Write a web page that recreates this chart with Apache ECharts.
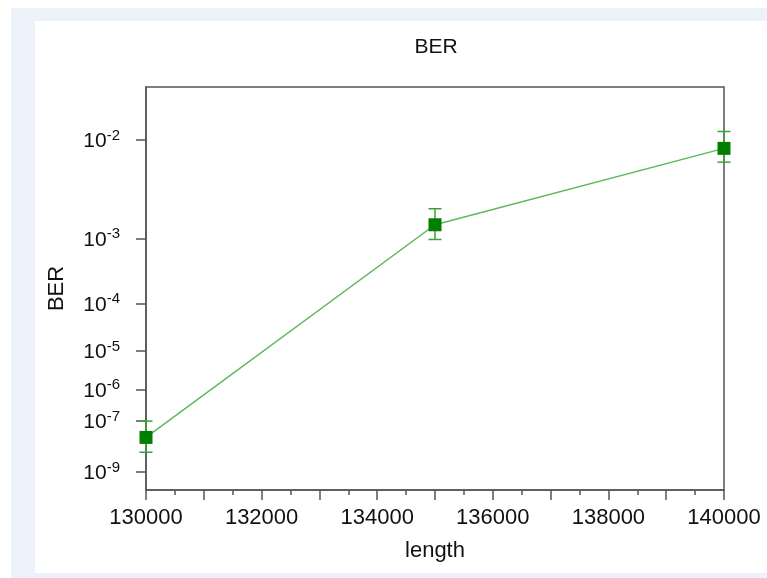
<!DOCTYPE html>
<html>
<head>
<meta charset="utf-8">
<script src="https://cdn.jsdelivr.net/npm/echarts@6/dist/echarts.min.js"></script>
<style>
  html, body { margin: 0; padding: 0; background: #fff; }
  #wrap { position: relative; width: 767px; height: 578px; overflow: hidden; }
  /* light frame around the white panel */
  #band { position: absolute; left: 11px; top: 8px; right: 0; bottom: 0; background: #edf2fa; }
  #panel { position: absolute; left: 35px; top: 21px; right: 0; bottom: 5px; background: #fff; }
  #chart { position: absolute; left: 0; top: 0; width: 767px; height: 578px; }
</style>
</head>
<body>
<div id="wrap">
  <div id="band"></div>
  <div id="panel"></div>
  <div id="chart"></div>
</div>
<script>
// data
const lengths = [130000, 135000, 140000];
const ber = [2.6e-8, 1.5e-3, 8.6e-3];
const berLow = [6.9e-9, 9.8e-4, 6.6e-3];
const berHigh = [1.0e-7, 2.3e-3, 1.16e-2];

// y tick labels (exponents of ten)
const yTickExp = [-2, -3, -4, -5, -6, -7, -9];
// x labels
const xLabels = [130000, 132000, 134000, 136000, 138000, 140000];

// visible BER range of the plot
const berTop = 2.27e-2;
const berBottom = 1.41e-10;

// the y axis is not a plain log axis: position goes with ln(-log10(BER) - 0.55)
const OFF = 0.55;
function T(v) {
  return Math.log(-Math.log10(v) - OFF);
}
function expOf(t) {
  return -Math.round(Math.exp(t) + OFF);
}

const FONT = "'Liberation Sans', Arial, sans-serif";
const AXIS_COLOR = "#555";
const TEXT_COLOR = "#111";

const chart = echarts.init(document.getElementById("chart"), null, { renderer: "canvas" });

const yTicks = yTickExp.map(e => T(Math.pow(10, e)));

const option = {
  backgroundColor: "transparent",
  animation: false,
  title: {
    text: "BER",
    left: 436,
    textAlign: "center",
    top: 37,
    padding: 0,
    textStyle: { fontFamily: FONT, fontSize: 21, fontWeight: "normal", color: TEXT_COLOR },
  },
  grid: {
    left: 146,
    right: 43,
    top: 87,
    bottom: 88,
    show: true,
    borderColor: AXIS_COLOR,
    borderWidth: 1.5,
    backgroundColor: "transparent",
  },
  xAxis: {
    type: "value",
    min: 130000,
    max: 140000,
    interval: 1000,
    name: "length",
    nameLocation: "middle",
    nameGap: 50,
    nameTextStyle: { fontFamily: FONT, fontSize: 22, color: TEXT_COLOR },
    axisLine: { onZero: false, lineStyle: { color: AXIS_COLOR, width: 1.5 } },
    axisTick: { show: true, length: 10, lineStyle: { color: AXIS_COLOR, width: 1.5 } },
    minorTick: { show: true, splitNumber: 2, length: 5, lineStyle: { color: AXIS_COLOR, width: 1.5 } },
    axisLabel: {
      margin: 17,
      fontFamily: FONT,
      fontSize: 22,
      color: TEXT_COLOR,
      formatter: v => (xLabels.indexOf(v) >= 0 ? String(v) : ""),
    },
    splitLine: { show: false },
  },
  yAxis: {
    type: "value",
    inverse: true,
    min: T(berTop),
    max: T(berBottom),
    name: "BER",
    nameLocation: "middle",
    nameGap: 78,
    nameTextStyle: { fontFamily: FONT, fontSize: 22, color: TEXT_COLOR },
    axisLine: { show: true, lineStyle: { color: AXIS_COLOR, width: 1.5 } },
    axisTick: { show: true, length: 10, customValues: yTicks, lineStyle: { color: AXIS_COLOR, width: 1.5 } },
    axisLabel: {
      customValues: yTicks,
      margin: 26,
      formatter: v => "{b|10}{s|" + expOf(v) + "}",
      rich: {
        b: { fontFamily: FONT, fontSize: 21, color: TEXT_COLOR, lineHeight: 24, verticalAlign: "bottom" },
        s: { fontFamily: FONT, fontSize: 15, color: TEXT_COLOR, lineHeight: 14, verticalAlign: "top" },
      },
    },
    splitLine: { show: false },
  },
  series: [
    {
      // error bars
      type: "custom",
      z: 1,
      data: lengths.map((x, i) => [x, T(berLow[i]), T(berHigh[i])]),
      encode: { x: 0, y: [1, 2] },
      renderItem: function (params, api) {
        const lo = api.coord([api.value(0), api.value(1)]);
        const hi = api.coord([api.value(0), api.value(2)]);
        const w = 6.5;
        const style = { stroke: "#3c9f3c", lineWidth: 1.5 };
        return {
          type: "group",
          children: [
            { type: "line", shape: { x1: lo[0], y1: lo[1], x2: hi[0], y2: hi[1] }, style: style },
            { type: "line", shape: { x1: lo[0] - w, y1: lo[1], x2: lo[0] + w, y2: lo[1] }, style: style },
            { type: "line", shape: { x1: hi[0] - w, y1: hi[1], x2: hi[0] + w, y2: hi[1] }, style: style },
          ],
        };
      },
    },
    {
      name: "BER",
      type: "line",
      z: 3,
      clip: false,
      data: lengths.map((x, i) => [x, T(ber[i])]),
      symbol: "rect",
      symbolSize: 13,
      itemStyle: { color: "#007f00" },
      lineStyle: { color: "#5cb85c", width: 1.5 },
    },
  ],
};

chart.setOption(option);
</script>
</body>
</html>
